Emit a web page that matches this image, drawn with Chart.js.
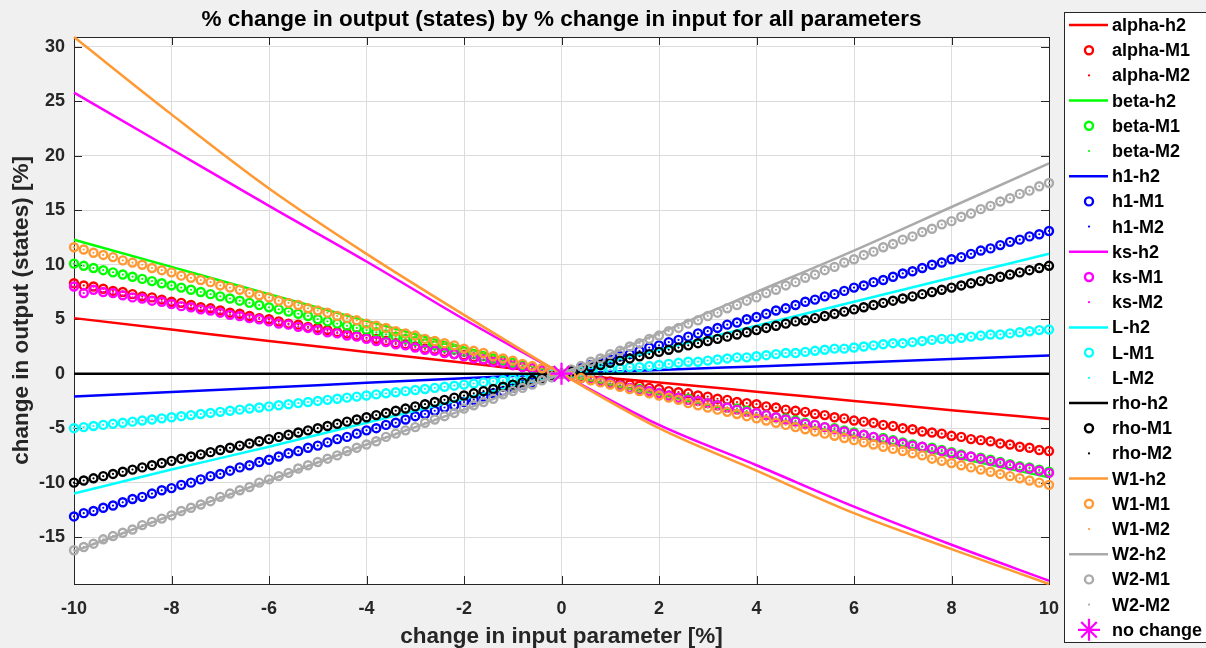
<!DOCTYPE html>
<html>
<head>
<meta charset="utf-8">
<script src="https://cdn.jsdelivr.net/npm/chart.js@4/dist/chart.umd.min.js"></script>
<style>
  html, body { margin: 0; padding: 0; background: #f0f0f0; }
  canvas { display: block; }
</style>
</head>
<body>
<canvas id="sensChart" width="1206" height="648"></canvas>
<script>
// x positions of the markers (-10 .. 10, step 0.2)
const xM = [
  -10, -9.8, -9.6, -9.4, -9.2, -9, -8.8, -8.6, -8.4, -8.2,
  -8, -7.8, -7.6, -7.4, -7.2, -7, -6.8, -6.6, -6.4, -6.2,
  -6, -5.8, -5.6, -5.4, -5.2, -5, -4.8, -4.6, -4.4, -4.2,
  -4, -3.8, -3.6, -3.4, -3.2, -3, -2.8, -2.6, -2.4, -2.2,
  -2, -1.8, -1.6, -1.4, -1.2, -1, -0.8, -0.6, -0.4, -0.2,
  0,
  0.2, 0.4, 0.6, 0.8, 1, 1.2, 1.4, 1.6, 1.8, 2,
  2.2, 2.4, 2.6, 2.8, 3, 3.2, 3.4, 3.6, 3.8, 4,
  4.2, 4.4, 4.6, 4.8, 5, 5.2, 5.4, 5.6, 5.8, 6,
  6.2, 6.4, 6.6, 6.8, 7, 7.2, 7.4, 7.6, 7.8, 8,
  8.2, 8.4, 8.6, 8.8, 9, 9.2, 9.4, 9.6, 9.8, 10
];
// x positions of the h2 lines
const xLine = [-10, -8, -6, -4, -2, 0, 2, 4, 6, 8, 10];

const xTicks = [-10, -8, -6, -4, -2, 0, 2, 4, 6, 8, 10];
const yTicks = [-15, -10, -5, 0, 5, 10, 15, 20, 25, 30];
const xMin = -10, xMax = 10;
const yMin = -19.3, yMax = 30.9;

const params = ['alpha', 'beta', 'h1', 'ks', 'L', 'rho', 'W1', 'W2'];

// h2 (lines)
const alphaH2 = [5.1, 4.05, 3.0, 2.0, 1.0, 0, -0.8, -1.65, -2.5, -3.35, -4.15];
const betaH2 = [12.3, 9.8, 7.3, 4.85, 2.4, 0, -1.9, -3.8, -5.7, -7.6, -9.5];
const h1H2 = [-2.1, -1.68, -1.26, -0.84, -0.42, 0, 0.34, 0.67, 1.0, 1.34, 1.68];
const ksH2 = [25.8, 20.6, 15.4, 10.3, 5.0, 0, -4.7, -8.4, -12.2, -15.7, -19.0];
const LH2 = [-11.0, -8.8, -6.7, -4.5, -2.3, 0, 2.2, 4.4, 6.6, 8.8, 11.0];
const rhoH2 = [0, 0, 0, 0, 0, 0, 0, 0, 0, 0, 0];
const W1H2 = [30.9, 23.8, 17.0, 11.0, 5.4, 0, -5.0, -8.9, -12.8, -16.1, -19.3];
const W2H2 = [-16.3, -13.0, -9.8, -6.5, -3.3, 0, 3.7, 7.5, 11.3, 15.3, 19.3];

// M1 (circles)
const alphaM1 = [
  8.3, 8.1, 8.0, 7.8, 7.6, 7.5, 7.3, 7.1, 7.0, 6.8,
  6.6, 6.5, 6.3, 6.1, 6.0, 5.8, 5.6, 5.5, 5.3, 5.1,
  5.0, 4.8, 4.6, 4.5, 4.3, 4.2, 4.0, 3.8, 3.7, 3.5,
  3.3, 3.2, 3.0, 2.8, 2.7, 2.5, 2.3, 2.2, 2.0, 1.8,
  1.7, 1.5, 1.3, 1.2, 1.0, 0.8, 0.7, 0.5, 0.3, 0.2,
  0,
  -0.1, -0.3, -0.4, -0.6, -0.7, -0.9, -1.0, -1.1, -1.3, -1.4,
  -1.6, -1.7, -1.8, -2.0, -2.1, -2.3, -2.4, -2.6, -2.7, -2.8,
  -3.0, -3.1, -3.3, -3.4, -3.5, -3.7, -3.8, -4.0, -4.1, -4.3,
  -4.4, -4.5, -4.7, -4.8, -5.0, -5.1, -5.3, -5.4, -5.5, -5.7,
  -5.8, -6.0, -6.1, -6.2, -6.4, -6.5, -6.7, -6.8, -7.0, -7.1
];
const betaM1 = [
  10.1, 9.9, 9.7, 9.5, 9.3, 9.1, 8.9, 8.7, 8.5, 8.3,
  8.1, 7.9, 7.7, 7.5, 7.3, 7.1, 6.9, 6.7, 6.5, 6.3,
  6.1, 5.9, 5.7, 5.5, 5.3, 5.0, 4.8, 4.6, 4.4, 4.2,
  4.0, 3.8, 3.6, 3.4, 3.2, 3.0, 2.8, 2.6, 2.4, 2.2,
  2.0, 1.8, 1.6, 1.4, 1.2, 1.0, 0.8, 0.6, 0.4, 0.2,
  0,
  -0.2, -0.4, -0.5, -0.7, -0.9, -1.1, -1.3, -1.4, -1.6, -1.8,
  -2.0, -2.2, -2.3, -2.5, -2.7, -2.9, -3.1, -3.2, -3.4, -3.6,
  -3.8, -4.0, -4.1, -4.3, -4.5, -4.7, -4.9, -5.0, -5.2, -5.4,
  -5.6, -5.8, -5.9, -6.1, -6.3, -6.5, -6.7, -6.8, -7.0, -7.2,
  -7.4, -7.6, -7.7, -7.9, -8.1, -8.3, -8.5, -8.6, -8.8, -9.0
];
const h1M1 = [
  -13.1, -12.8, -12.6, -12.3, -12.1, -11.8, -11.5, -11.3, -11.0, -10.7,
  -10.5, -10.2, -10.0, -9.7, -9.4, -9.2, -8.9, -8.6, -8.4, -8.1,
  -7.9, -7.6, -7.3, -7.1, -6.8, -6.6, -6.3, -6.0, -5.8, -5.5,
  -5.2, -5.0, -4.7, -4.5, -4.2, -3.9, -3.7, -3.4, -3.1, -2.9,
  -2.6, -2.4, -2.1, -1.8, -1.6, -1.3, -1.0, -0.8, -0.5, -0.3,
  0,
  0.3, 0.5, 0.8, 1.0, 1.3, 1.6, 1.8, 2.1, 2.4, 2.6,
  2.9, 3.1, 3.4, 3.7, 3.9, 4.2, 4.5, 4.7, 5.0, 5.2,
  5.5, 5.8, 6.0, 6.3, 6.6, 6.8, 7.1, 7.3, 7.6, 7.9,
  8.1, 8.4, 8.6, 8.9, 9.2, 9.4, 9.7, 10.0, 10.2, 10.5,
  10.7, 11.0, 11.3, 11.5, 11.8, 12.1, 12.3, 12.6, 12.8, 13.1
];
const ksM1 = [
  8.0, 7.4, 7.7, 7.5, 7.4, 7.2, 7.0, 6.9, 6.7, 6.6,
  6.4, 6.2, 6.1, 5.9, 5.8, 5.6, 5.4, 5.3, 5.1, 5.0,
  4.8, 4.6, 4.5, 4.3, 4.2, 4.0, 3.8, 3.7, 3.5, 3.4,
  3.2, 3.0, 2.9, 2.7, 2.6, 2.4, 2.2, 2.1, 1.9, 1.8,
  1.6, 1.4, 1.3, 1.1, 1.0, 0.8, 0.6, 0.5, 0.3, 0.2,
  0,
  -0.2, -0.4, -0.5, -0.7, -0.9, -1.1, -1.3, -1.5, -1.6, -1.8,
  -2.0, -2.2, -2.4, -2.5, -2.7, -2.9, -3.1, -3.3, -3.5, -3.6,
  -3.8, -4.0, -4.2, -4.4, -4.6, -4.7, -4.9, -5.1, -5.3, -5.5,
  -5.6, -5.8, -6.0, -6.2, -6.4, -6.6, -6.7, -6.9, -7.1, -7.3,
  -7.5, -7.6, -7.8, -8.0, -8.2, -8.4, -8.6, -8.7, -8.9, -9.1
];
const LM1 = [
  -5.0, -4.9, -4.8, -4.7, -4.6, -4.5, -4.4, -4.3, -4.2, -4.1,
  -4.0, -3.9, -3.8, -3.7, -3.6, -3.5, -3.4, -3.3, -3.2, -3.1,
  -3.0, -2.9, -2.8, -2.7, -2.6, -2.5, -2.4, -2.3, -2.2, -2.1,
  -2.0, -1.9, -1.8, -1.7, -1.6, -1.5, -1.4, -1.3, -1.2, -1.1,
  -1.0, -0.9, -0.8, -0.7, -0.6, -0.5, -0.4, -0.3, -0.2, -0.1,
  0,
  0.1, 0.2, 0.2, 0.3, 0.4, 0.5, 0.6, 0.6, 0.7, 0.8,
  0.9, 1.0, 1.1, 1.1, 1.2, 1.3, 1.4, 1.5, 1.5, 1.6,
  1.7, 1.8, 1.9, 1.9, 2.0, 2.1, 2.2, 2.3, 2.3, 2.4,
  2.5, 2.6, 2.7, 2.8, 2.8, 2.9, 3.0, 3.1, 3.2, 3.2,
  3.3, 3.4, 3.5, 3.6, 3.6, 3.7, 3.8, 3.9, 4.0, 4.05
];
const rhoM1 = [
  -10.0, -9.8, -9.6, -9.4, -9.2, -9.0, -8.8, -8.6, -8.4, -8.2,
  -8.0, -7.8, -7.6, -7.4, -7.2, -7.0, -6.8, -6.6, -6.4, -6.2,
  -6.0, -5.8, -5.6, -5.4, -5.2, -5.0, -4.8, -4.6, -4.4, -4.2,
  -4.0, -3.8, -3.6, -3.4, -3.2, -3.0, -2.8, -2.6, -2.4, -2.2,
  -2.0, -1.8, -1.6, -1.4, -1.2, -1.0, -0.8, -0.6, -0.4, -0.2,
  0,
  0.2, 0.4, 0.6, 0.8, 1.0, 1.2, 1.4, 1.6, 1.8, 2.0,
  2.2, 2.4, 2.6, 2.8, 3.0, 3.2, 3.4, 3.6, 3.8, 4.0,
  4.2, 4.4, 4.6, 4.8, 4.9, 5.1, 5.3, 5.5, 5.7, 5.9,
  6.1, 6.3, 6.5, 6.7, 6.9, 7.1, 7.3, 7.5, 7.7, 7.9,
  8.1, 8.3, 8.5, 8.7, 8.9, 9.1, 9.3, 9.5, 9.7, 9.9
];
const W1M1 = [
  11.6, 11.4, 11.1, 10.9, 10.7, 10.4, 10.2, 10.0, 9.7, 9.5,
  9.3, 9.0, 8.8, 8.6, 8.4, 8.1, 7.9, 7.7, 7.4, 7.2,
  7.0, 6.7, 6.5, 6.3, 6.0, 5.8, 5.6, 5.3, 5.1, 4.9,
  4.6, 4.4, 4.2, 3.9, 3.7, 3.5, 3.2, 3.0, 2.8, 2.6,
  2.3, 2.1, 1.9, 1.6, 1.4, 1.2, 0.9, 0.7, 0.5, 0.2,
  0,
  -0.2, -0.4, -0.6, -0.8, -1.0, -1.2, -1.4, -1.6, -1.8, -2.0,
  -2.2, -2.4, -2.7, -2.9, -3.1, -3.3, -3.5, -3.7, -3.9, -4.1,
  -4.3, -4.5, -4.7, -4.9, -5.1, -5.3, -5.5, -5.7, -5.9, -6.1,
  -6.3, -6.5, -6.7, -6.9, -7.1, -7.3, -7.5, -7.8, -8.0, -8.2,
  -8.4, -8.6, -8.8, -9.0, -9.2, -9.4, -9.6, -9.8, -10.0, -10.2
];
const W2M1 = [
  -16.2, -15.9, -15.6, -15.2, -14.9, -14.6, -14.3, -13.9, -13.6, -13.3,
  -13.0, -12.6, -12.3, -12.0, -11.7, -11.3, -11.0, -10.7, -10.4, -10.0,
  -9.7, -9.4, -9.1, -8.7, -8.4, -8.1, -7.8, -7.5, -7.1, -6.8,
  -6.5, -6.2, -5.8, -5.5, -5.2, -4.9, -4.5, -4.2, -3.9, -3.6,
  -3.2, -2.9, -2.6, -2.3, -1.9, -1.6, -1.3, -1.0, -0.6, -0.3,
  0,
  0.4, 0.7, 1.1, 1.4, 1.8, 2.1, 2.5, 2.8, 3.2, 3.5,
  3.9, 4.2, 4.6, 4.9, 5.3, 5.6, 6.0, 6.3, 6.7, 7.0,
  7.4, 7.7, 8.1, 8.4, 8.8, 9.1, 9.5, 9.8, 10.2, 10.5,
  10.9, 11.2, 11.6, 11.9, 12.3, 12.6, 13.0, 13.3, 13.7, 14.0,
  14.4, 14.7, 15.1, 15.4, 15.8, 16.1, 16.5, 16.8, 17.2, 17.5
];

// M2 (dots) sit on the same spots as M1
const alphaM2 = alphaM1, betaM2 = betaM1, h1M2 = h1M1, ksM2 = ksM1;
const LM2 = LM1, rhoM2 = rhoM1, W1M2 = W1M1, W2M2 = W2M1;

const noChangeX = [0];
const noChangeY = [0];

const h2Data = { alpha: alphaH2, beta: betaH2, h1: h1H2, ks: ksH2, L: LH2, rho: rhoH2, W1: W1H2, W2: W2H2 };
const m1Data = { alpha: alphaM1, beta: betaM1, h1: h1M1, ks: ksM1, L: LM1, rho: rhoM1, W1: W1M1, W2: W2M1 };
const m2Data = { alpha: alphaM2, beta: betaM2, h1: h1M2, ks: ksM2, L: LM2, rho: rhoM2, W1: W1M2, W2: W2M2 };

const colors = {
    alpha: '#ff0000', beta: '#00ff00', h1: '#0000ff', ks: '#ff00ff',
    L: '#00ffff', rho: '#000000', W1: '#ff9933', W2: '#aaaaaa'
};

const pts = (xs, ys) => xs.map((x, i) => ({ x: x, y: ys[i] }));

const datasets = [];
params.forEach(p => {
    datasets.push({
        label: p + '-h2',
        data: pts(xLine, h2Data[p]),
        showLine: true,
        borderColor: colors[p],
        backgroundColor: colors[p],
        borderWidth: 2.5,
        pointRadius: 0,
        cubicInterpolationMode: 'monotone',
        clip: false
    });
    datasets.push({
        label: p + '-M1',
        data: pts(xM, m1Data[p]),
        showLine: false,
        pointStyle: 'circle',
        pointRadius: 4,
        pointBorderWidth: 2.4,
        borderColor: colors[p],
        pointBorderColor: colors[p],
        backgroundColor: 'rgba(0,0,0,0)',
        pointBackgroundColor: 'rgba(0,0,0,0)',
        clip: false
    });
    datasets.push({
        label: p + '-M2',
        data: pts(xM, m2Data[p]),
        showLine: false,
        pointStyle: 'circle',
        pointRadius: 1.1,
        pointBorderWidth: 0,
        borderColor: colors[p],
        backgroundColor: colors[p],
        pointBackgroundColor: colors[p],
        clip: false
    });
});
datasets.push({
    label: 'no change',
    data: pts(noChangeX, noChangeY),
    showLine: false,
    pointStyle: 'star',
    pointRadius: 11,
    pointBorderWidth: 2.2,
    borderColor: '#ff00ff',
    pointBorderColor: '#ff00ff',
    backgroundColor: '#ff00ff',
    clip: false
});
// later series are painted on top, like the original plot order
datasets.forEach((d, i) => { d.order = datasets.length - i; });

const FONT = "'Liberation Sans', Arial, sans-serif";
const AXIS_COLOR = '#262626';

// grey figure background, white axes
const backgroundPlugin = {
    id: 'figureBackground',
    beforeDraw(chart) {
        const { ctx, chartArea: a } = chart;
        ctx.save();
        ctx.fillStyle = '#f0f0f0';
        ctx.fillRect(0, 0, chart.width, chart.height);
        ctx.fillStyle = '#ffffff';
        ctx.fillRect(a.left, a.top, a.right - a.left, a.bottom - a.top);
        ctx.restore();
    }
};

// box around axes with inward tick marks
const boxPlugin = {
    id: 'axesBox',
    beforeDatasetsDraw(chart) {
        const { ctx, chartArea: a, scales } = chart;
        const len = 8;
        ctx.save();
        ctx.strokeStyle = AXIS_COLOR;
        ctx.lineWidth = 1;
        ctx.beginPath();
        xTicks.forEach(v => {
            const px = Math.round(scales.x.getPixelForValue(v)) + 0.5;
            ctx.moveTo(px, a.bottom); ctx.lineTo(px, a.bottom - len);
            ctx.moveTo(px, a.top); ctx.lineTo(px, a.top + len);
        });
        yTicks.forEach(v => {
            const py = Math.round(scales.y.getPixelForValue(v)) + 0.5;
            ctx.moveTo(a.left, py); ctx.lineTo(a.left + len, py);
            ctx.moveTo(a.right, py); ctx.lineTo(a.right - len, py);
        });
        ctx.stroke();
        ctx.strokeRect(Math.round(a.left) + 0.5, Math.round(a.top) + 0.5,
            Math.round(a.right - a.left), Math.round(a.bottom - a.top));
        ctx.restore();
    }
};

// MATLAB-style legend box on the right
const legendPlugin = {
    id: 'sideLegend',
    afterDraw(chart) {
        const ctx = chart.ctx;
        const boxX = 1064.5, boxY = 12.5, boxH = 630;
        const rowY0 = 25, rowStep = 25.2;
        ctx.save();
        ctx.fillStyle = '#ffffff';
        ctx.fillRect(boxX, boxY, chart.width - boxX + 5, boxH);
        ctx.strokeStyle = AXIS_COLOR;
        ctx.lineWidth = 1;
        ctx.strokeRect(boxX, boxY, chart.width - boxX + 5, boxH);
        chart.data.datasets.forEach((ds, i) => {
            const y = rowY0 + i * rowStep;
            if (ds.showLine) {
                ctx.strokeStyle = ds.borderColor;
                ctx.lineWidth = ds.borderWidth;
                ctx.beginPath();
                ctx.moveTo(1069, y);
                ctx.lineTo(1108, y);
                ctx.stroke();
            } else {
                ctx.strokeStyle = ds.pointBorderColor || ds.borderColor;
                ctx.fillStyle = ds.pointBackgroundColor || ds.backgroundColor;
                ctx.lineWidth = ds.pointBorderWidth;
                Chart.helpers.drawPoint(ctx, {
                    pointStyle: ds.pointStyle,
                    radius: ds.pointRadius,
                    rotation: 0,
                    borderWidth: ds.pointBorderWidth
                }, 1089, y);
            }
            ctx.fillStyle = '#000000';
            ctx.font = 'bold 18px ' + FONT;
            ctx.textAlign = 'left';
            ctx.textBaseline = 'middle';
            ctx.fillText(ds.label, 1112, y + 1);
        });
        ctx.restore();
    }
};

new Chart(document.getElementById('sensChart'), {
    type: 'scatter',
    data: { datasets: datasets },
    options: {
        responsive: false,
        devicePixelRatio: 1,
        animation: false,
        events: [],
        layout: { padding: { left: 0, right: 157, top: 0, bottom: 0 } },
        plugins: {
            legend: { display: false },
            tooltip: { enabled: false },
            title: {
                display: true,
                fullSize: false,
                text: '% change in output (states) by % change in input for all parameters',
                color: '#000000',
                font: { family: FONT, size: 22.5, weight: 'bold' },
                padding: { top: 6.5, bottom: 3.5 }
            }
        },
        scales: {
            x: {
                type: 'linear',
                min: xMin,
                max: xMax,
                afterBuildTicks: s => { s.ticks = xTicks.map(v => ({ value: v })); },
                afterFit: s => { s.height = 64; },
                grid: { color: '#dcdcdc', lineWidth: 1, drawTicks: false },
                border: { display: false },
                ticks: {
                    color: AXIS_COLOR,
                    font: { family: FONT, size: 18, weight: 'bold' },
                    padding: 14,
                    maxRotation: 0
                },
                title: {
                    display: true,
                    text: 'change in input parameter [%]',
                    color: AXIS_COLOR,
                    font: { family: FONT, size: 22.5, weight: 'bold', lineHeight: 1 },
                    padding: { top: 0, bottom: 0 }
                }
            },
            y: {
                type: 'linear',
                min: yMin,
                max: yMax,
                afterBuildTicks: s => { s.ticks = yTicks.map(v => ({ value: v })); },
                afterFit: s => { s.width = 74; },
                grid: { color: '#dcdcdc', lineWidth: 1, drawTicks: false },
                border: { display: false },
                ticks: {
                    color: AXIS_COLOR,
                    font: { family: FONT, size: 18, weight: 'bold' },
                    padding: 9
                },
                title: {
                    display: true,
                    text: 'change in output (states) [%]',
                    color: AXIS_COLOR,
                    font: { family: FONT, size: 22.5, weight: 'bold', lineHeight: 1 },
                    padding: { top: 11, bottom: 0 }
                }
            }
        }
    },
    plugins: [backgroundPlugin, boxPlugin, legendPlugin]
});
</script>
</body>
</html>
